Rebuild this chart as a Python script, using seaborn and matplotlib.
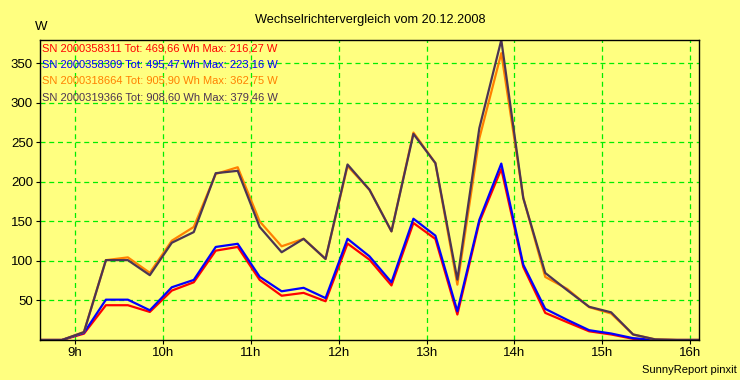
import pandas as pd
import numpy as np
import matplotlib
matplotlib.use("Agg")
import matplotlib.pyplot as plt
import seaborn as sns

# time stamps (15 min values)
times = ["08:36", "08:51", "09:06", "09:21", "09:36", "09:51", "10:06", "10:21",
         "10:36", "10:51", "11:06", "11:21", "11:36", "11:51", "12:06", "12:21",
         "12:36", "12:51", "13:06", "13:21", "13:36", "13:51", "14:06", "14:21",
         "14:36", "14:51", "15:06", "15:21", "15:36", "15:51", "16:06"]

# power in W per inverter
sn_358311 = [0, 0, 8, 44, 44, 35.5, 62.5, 73, 113, 117.7, 76, 56, 59.6, 49, 122, 101.6,
             69, 148, 127.8, 32.2, 149, 216.27, 92.4, 34.3, 22.5, 11, 7, 1.5, 0, 0, 0]
sn_358309 = [0, 0, 9, 51, 51, 37.6, 66.7, 76, 117.7, 121.7, 80, 61.6, 66, 53, 128, 105.8,
             73, 153.4, 132, 36.4, 152, 223.16, 95.3, 39.4, 25.5, 12.4, 8.2, 2.3, 0, 0, 0]
sn_318664 = [0, 0, 10, 101, 104.5, 85, 125.6, 143, 210, 218.5, 150, 118.5, 128, 102.5, 220, 190,
             137.4, 262.4, 223.7, 70, 255, 362.75, 180, 79.8, 64.6, 41.5, 33.5, 7, 0.8, 0, 0]
sn_319366 = [0, 0, 10, 101, 101, 82, 123, 136.5, 211, 214, 143, 111, 128, 102.5, 222, 190,
             137.4, 260.7, 223.7, 76.4, 268, 379.46, 179.5, 84.8, 63, 42, 35, 7, 0.8, 0, 0]

serials = ["2000358311", "2000358309", "2000318664", "2000319366"]
totals = ["469,66", "495,47", "905,90", "908,60"]
maxima = ["216,27", "223,16", "362,75", "379,46"]
colors = ["#FF0000", "#0000FF", "#FF8000", "#4B3453"]

hours = [int(t[:2]) + int(t[3:]) / 60 for t in times]
series = [sn_358311, sn_358309, sn_318664, sn_319366]
df = pd.concat([pd.DataFrame({"hour": hours, "W": s, "sn": sn})
                for s, sn in zip(series, serials)], ignore_index=True)

yellow = "#FFFF80"
plt.rcParams["font.family"] = ["Liberation Sans", "DejaVu Sans"]
fig = plt.figure(figsize=(7.4, 3.8), dpi=100, facecolor=yellow)
ax = fig.add_axes([40 / 740, 40 / 380, 659 / 740, 300 / 380])
ax.set_facecolor(yellow)

sns.lineplot(data=df, x="hour", y="W", hue="sn", hue_order=serials,
             palette=colors, linewidth=1.6, legend=False, ax=ax)

ax.set_xlim(8.6, 16.1)
ax.set_ylim(0, 379.46)
ax.set_xticks(range(9, 17))
ax.set_xticklabels([f"{h}h" for h in range(9, 17)])
ax.set_yticks(range(50, 351, 50))
ax.set_xlabel("")
ax.set_ylabel("")
ax.grid(True, color="#00EE00", linestyle=(0, (4, 3)), linewidth=0.9)
ax.set_axisbelow(True)
ax.tick_params(axis="both", length=3, width=0.8, color="black", labelsize=9.5,
               labelcolor="black", pad=2)
for sp in ax.spines.values():
    sp.set_color("black")
    sp.set_linewidth(1.0)

for i, (sn, tot, mx, c) in enumerate(zip(serials, totals, maxima, colors)):
    ax.text(2 / 659, 1 - (8.5 + 16.2 * i) / 300,
            f"SN {sn} Tot: {tot} Wh Max: {mx} W",
            transform=ax.transAxes, color=c, fontsize=8.0, va="center", ha="left")

fig.text(370 / 740, 1 - 20 / 380, "Wechselrichtervergleich vom 20.12.2008",
         ha="center", va="center", fontsize=9.2)
fig.text(41 / 740, 1 - 27 / 380, "W", ha="center", va="center", fontsize=9.5)
fig.text(737 / 740, 1 - 370 / 380, "SunnyReport pinxit", ha="right", va="center",
         fontsize=8.0)

fig.savefig("out.png", dpi=100, facecolor=yellow)
